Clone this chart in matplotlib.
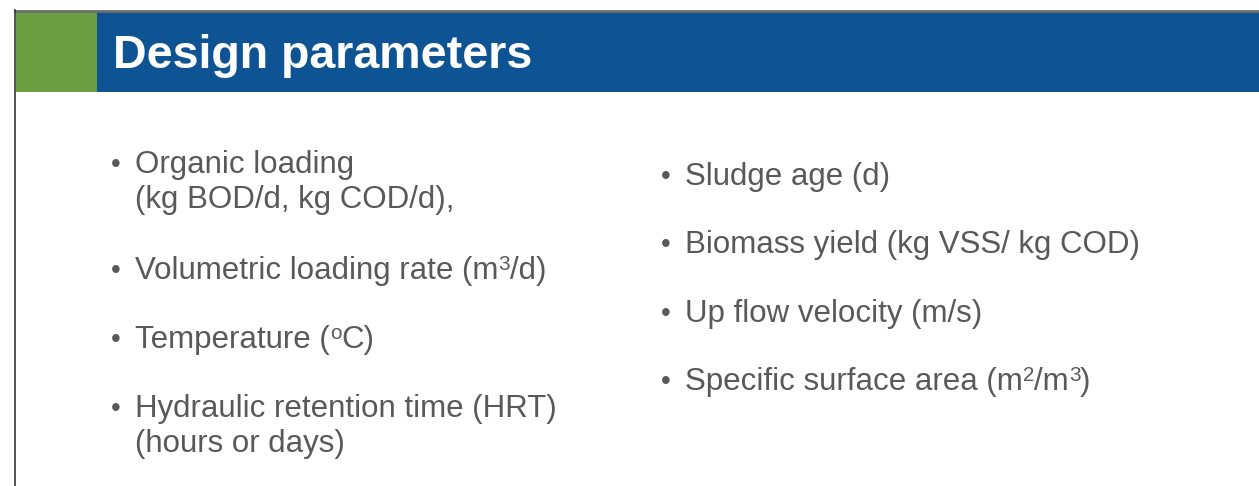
import re
import matplotlib.pyplot as plt
from matplotlib.patches import Rectangle

plt.rcParams['font.family'] = ['Liberation Sans', 'DejaVu Sans']

title = 'Design parameters'

# ^{..} marks a superscript run
left_items = [
    ['Organic loading', '(kg BOD/d, kg COD/d),'],
    ['Volumetric loading rate (m^{3}/d)'],
    ['Temperature (^{o}C)'],
    ['Hydraulic retention time (HRT)', '(hours or days)'],
]
right_items = [
    ['Sludge age (d)'],
    ['Biomass yield (kg VSS/ kg COD)'],
    ['Up flow velocity (m/s)'],
    ['Specific surface area (m^{2}/m^{3})'],
]
left_baselines = [173, 279, 348, 417]
right_baselines = [185, 253, 322, 390]

W, H = 1259, 486
fig = plt.figure(figsize=(W / 100, H / 100), dpi=100)
ax = fig.add_axes([0, 0, 1, 1])
ax.set_xlim(0, W)
ax.set_ylim(H, 0)
ax.axis('off')
renderer = fig.canvas.get_renderer()

# frame lines
ax.plot([15, W], [11, 11], color='#6d6d6d', lw=2)
ax.plot([15.5, 15.5], [10, H], color='#333333', lw=1.2)

# header band
ax.add_patch(Rectangle((16, 12), 81, 80, color='#6a9e41', lw=0))
ax.add_patch(Rectangle((97, 12), W - 97, 80, color='#0e5394', lw=0))
ax.text(113, 68, title, color='white', fontsize=33.5, fontweight='bold',
        va='baseline', ha='left')

txt_color = '#595959'
fs = 22.5
line_gap = 35


def draw_runs(x, y, s):
    # split into normal / superscript pieces and place them one after another
    for part in re.split(r'(\^\{[^}]*\})', s):
        if not part:
            continue
        if part.startswith('^{'):
            t = ax.text(x, y - 9, part[2:-1], color=txt_color, fontsize=fs * 0.66,
                        va='baseline', ha='left')
        else:
            t = ax.text(x, y, part, color=txt_color, fontsize=fs,
                        va='baseline', ha='left')
        bb = t.get_window_extent(renderer)
        x += bb.width


def draw_column(items, baselines, bx, tx):
    for lines, y in zip(items, baselines):
        ax.text(bx, y - 1, '•', color=txt_color, fontsize=20,
                va='baseline', ha='left')
        for k, s in enumerate(lines):
            draw_runs(tx, y + k * line_gap, s)


draw_column(left_items, left_baselines, 111, 135)
draw_column(right_items, right_baselines, 661, 685)

fig.savefig('out.png', dpi=100)
